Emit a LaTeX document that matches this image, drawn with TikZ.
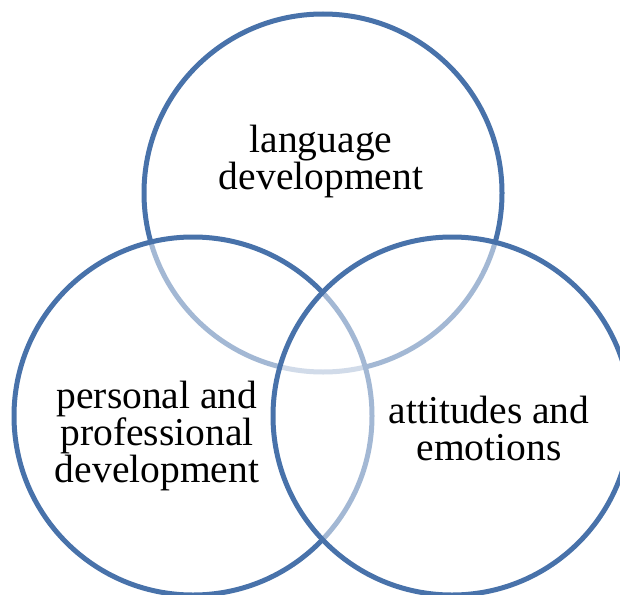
\documentclass[tikz,border=0pt]{standalone}
\usepackage{fontspec}
\setmainfont{Liberation Serif}
\definecolor{vennblue}{RGB}{72,114,170}
\begin{document}
\begin{tikzpicture}[x=1pt,y=-1pt,
  venn/.style={draw=vennblue,line width=5pt,fill=white,fill opacity=0.5,draw opacity=1},
  lbl/.style={align=center,font=\fontsize{39.5}{37}\selectfont,text=black,inner sep=0pt}]
\useasboundingbox (0,0) rectangle (620,594);
\clip (0,0) rectangle (620,594);
\draw[venn] (323,193) circle[radius=179];
\draw[venn] (193,416) circle[radius=179];
\draw[venn] (452,416) circle[radius=179];
\node[lbl] (lang) at (321,161) {language\\development};
\node[lbl] (pers) at (157,436) {personal and\\professional\\development};
\node[lbl] (att) at (489,428) {attitudes and\\emotions};
\end{tikzpicture}
\end{document}
